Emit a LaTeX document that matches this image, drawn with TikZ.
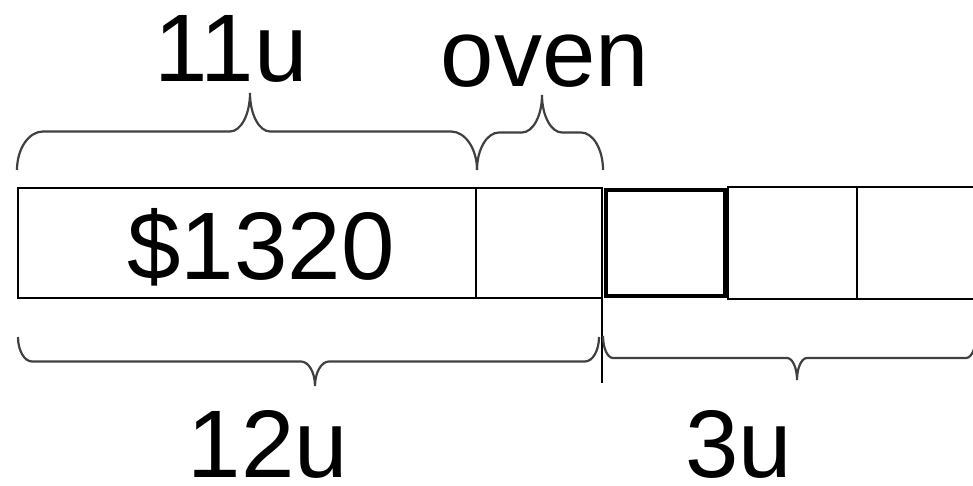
\documentclass[tikz,border=0pt]{standalone}
\usepackage{fontspec}
\setmainfont{Liberation Sans}
\usetikzlibrary{positioning, calc}

% curly brace from #1 to #2 with its point at #3, end curve width #4, tip curve width #5
\newcommand{\curly}[5]{%
  \draw[curl] let \p1=(#1), \p2=(#2), \p3=(#3), \n1={(\y1+\y3)/2} in
    (\p1) .. controls (\x1,{\y1+0.55*(\n1-\y1)}) and ({\x1+0.45*#4},\n1) .. ({\x1+#4},\n1)
    -- ({\x3-#5},\n1) .. controls ({\x3-0.45*#5},\n1) and (\x3,{\y3+0.55*(\n1-\y3)}) .. (\p3)
    .. controls (\x3,{\y3+0.55*(\n1-\y3)}) and ({\x3+0.45*#5},\n1) .. ({\x3+#5},\n1)
    -- ({\x2-#4},\n1) .. controls ({\x2-0.45*#4},\n1) and (\x2,{\y2+0.55*(\n1-\y2)}) .. (\p2);
}

\begin{document}
\begin{tikzpicture}[x=1pt, y=1pt,
        bar/.style={rectangle, draw=black, line width=1.6pt, inner sep=0pt, outer sep=0pt, minimum height=110pt},
        unitbox/.style={bar, minimum height=112pt},
        thickbox/.style={bar, line width=3.2pt, minimum height=106pt},
        lbl/.style={font=\fontsize{96}{110}\selectfont, inner sep=0pt, anchor=base},
        curl/.style={draw=black!75, line width=2.2pt}
    ]
    \useasboundingbox (0,0) rectangle (973,486);
    \clip (0,0) rectangle (973,486);
    % the bar
    \node[bar, minimum width=458pt, anchor=south west] (part) at (18,188) {};
    \node[bar, minimum width=126pt, right=0pt of part] (oven) {};
    \node[thickbox, minimum width=119pt, right=4pt of oven] (unitA) {};
    \node[unitbox, minimum width=129pt, right=3pt of unitA] (unitB) {};
    \node[unitbox, minimum width=133pt, right=0pt of unitB] (unitC) {};
    \node[lbl] (amount) at (261,206) {\$1320};
    \coordinate (cut) at (602,103);
    \draw[line width=1.6pt] (oven.north east) -- (cut);
    % braces
    \coordinate (topL) at (17,316);
    \coordinate (topM) at (477,316);
    \coordinate (topR) at (603,316);
    \coordinate (tipA) at (250,393);
    \coordinate (tipB) at (542,391);
    \coordinate (botL) at (18,149);
    \coordinate (botM) at (599,149);
    \coordinate (botN) at (603,150);
    \coordinate (botR) at (976,150);
    \coordinate (tipC) at (315,100);
    \coordinate (tipD) at (797,106);
    \curly{topL}{topM}{tipA}{26}{20}
    \curly{topM}{topR}{tipB}{22}{20}
    \curly{botL}{botM}{tipC}{14}{14}
    \curly{botN}{botR}{tipD}{10}{10}
    % labels
    \node[lbl] (eleven) at (231,404) {11u};
    \node[lbl] (ovenlbl) at (545,399) {oven};
    \node[lbl] (twelve) at (268,8) {12u};
    \node[lbl] (three) at (739,8) {3u};
\end{tikzpicture}
\end{document}
